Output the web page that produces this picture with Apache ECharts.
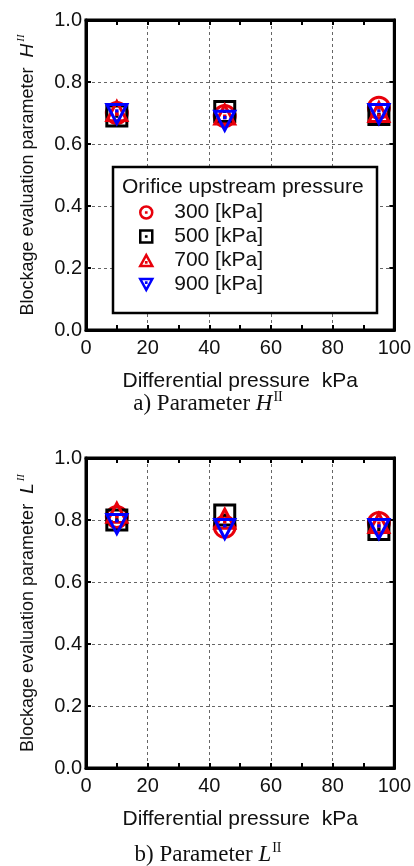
<!DOCTYPE html>
<html>
<head>
<meta charset="utf-8">
<script src="https://cdn.jsdelivr.net/npm/echarts@6/dist/echarts.min.js"></script>
<style>
  html, body { margin: 0; padding: 0; background: #fff; }
  #chart { width: 414px; height: 866px; }
</style>
</head>
<body>
<div id="chart"></div>
<script>
// Differential pressure (kPa) at which each test was run
const pressureX = [10, 45, 95];

// Orifice upstream pressure groups
const upstreamLabels = ['300 [kPa]', '500 [kPa]', '700 [kPa]', '900 [kPa]'];

// Blockage evaluation parameter H^II
const h300 = [0.700, 0.690, 0.717];
const h500 = [0.690, 0.705, 0.695];
const h700 = [0.706, 0.695, 0.703];
const h900 = [0.697, 0.675, 0.697];

// Blockage evaluation parameter L^II
const l300 = [0.810, 0.778, 0.790];
const l500 = [0.800, 0.816, 0.769];
const l700 = [0.823, 0.804, 0.790];
const l900 = [0.787, 0.771, 0.771];

// Axis ticks
const xTicks = [0, 20, 40, 60, 80, 100];
const yTicks = [0.0, 0.2, 0.4, 0.6, 0.8, 1.0];

const FONT = 'Liberation Sans, Arial, sans-serif';
const SERIF = 'Liberation Serif, Times New Roman, serif';

// Hollow markers with a small centre dot
const SYM = {
  circle: 'path://M10,0A10,10 0 1,1 10,20A10,10 0 1,1 10,0Z M9.85,9.85h0.3v0.3h-0.3Z',
  square: 'path://M0,0H20V20H0Z M9.85,9.85h0.3v0.3h-0.3Z',
  up: 'path://M10,0L20,18L0,18Z M9.85,11.85h0.3v0.3h-0.3Z',
  down: 'path://M0,0L20,0L10,18Z M9.85,5.85h0.3v0.3h-0.3Z'
};
const groupStyle = [
  { symbol: SYM.circle, color: '#e8000b', size: [21, 21] },
  { symbol: SYM.square, color: '#000000', size: [20, 20] },
  { symbol: SYM.up, color: '#e8000b', size: [20, 19] },
  { symbol: SYM.down, color: '#0000ff', size: [20, 19] }
];

const frameW = 310, frameH = 310, left = 86;
const tops = [20, 458];

function pairs(ys) { return pressureX.map((x, i) => [x, ys[i]]); }

const grids = tops.map(t => ({
  left: left, top: t, width: frameW, height: frameH,
  show: true, borderColor: '#000', borderWidth: 3, backgroundColor: 'transparent'
}));

const xAxes = [];
const yAxes = [];
const yNames = ['H', 'L'];
tops.forEach((t, g) => {
  xAxes.push({
    type: 'value', gridIndex: g, min: xTicks[0], max: xTicks[xTicks.length - 1], interval: 20,
    position: 'bottom',
    axisLine: { show: true, onZero: false, lineStyle: { color: '#000', width: 3 } },
    axisTick: { show: true, inside: true, length: 5, lineStyle: { color: '#000', width: 2 } },
    minorTick: { show: true, splitNumber: 2, length: 5, lineStyle: { color: '#000', width: 2 } },
    axisLabel: { color: '#111', fontSize: 20, fontFamily: FONT, margin: 8 },
    splitLine: { show: true, lineStyle: { color: '#666', width: 1, type: [3, 3] } },
    name: 'Differential pressure  kPa', nameLocation: 'middle', nameGap: 41,
    nameTextStyle: { color: '#111', fontSize: 21, fontFamily: FONT }
  });
  xAxes.push({
    type: 'value', gridIndex: g, min: 0, max: 100, interval: 20, position: 'top',
    axisLine: { show: true, onZero: false, lineStyle: { color: '#000', width: 3 } },
    axisTick: { show: true, inside: true, length: 5, lineStyle: { color: '#000', width: 2 } },
    minorTick: { show: true, splitNumber: 2, length: 5, lineStyle: { color: '#000', width: 2 } },
    axisLabel: { show: false }, splitLine: { show: false }
  });
  yAxes.push({
    type: 'value', gridIndex: g, min: yTicks[0], max: yTicks[yTicks.length - 1], interval: 0.2,
    position: 'left',
    axisLine: { show: true, onZero: false, lineStyle: { color: '#000', width: 3 } },
    axisTick: { show: true, inside: true, length: 5, lineStyle: { color: '#000', width: 2 } },
    axisLabel: { color: '#111', fontSize: 20, fontFamily: FONT, margin: 4, formatter: v => v.toFixed(1) },
    splitLine: { show: true, lineStyle: { color: '#666', width: 1, type: [3, 3] } },
    name: '{n|Blockage evaluation parameter  }{i|' + yNames[g] + '}{s|II}',
    nameLocation: 'middle', nameRotate: 90, nameGap: 47,
    nameTextStyle: {
      color: '#111', fontFamily: FONT,
      rich: {
        n: { fontSize: 18, fontFamily: FONT, color: '#111', lineHeight: 22 },
        i: { fontSize: 19, fontFamily: FONT, fontStyle: 'italic', color: '#111', lineHeight: 22 },
        s: { fontSize: 11, fontFamily: SERIF, fontStyle: 'italic', color: '#111', lineHeight: 22, padding: [0, 0, 13, 2] }
      }
    }
  });
  yAxes.push({
    type: 'value', gridIndex: g, min: 0, max: 1, interval: 0.2, position: 'right',
    axisLine: { show: true, onZero: false, lineStyle: { color: '#000', width: 3 } },
    axisTick: { show: true, inside: true, length: 5, lineStyle: { color: '#000', width: 2 } },
    axisLabel: { show: false }, splitLine: { show: false }
  });
});

const hSets = [h300, h500, h700, h900];
const lSets = [l300, l500, l700, l900];
const series = [];
[hSets, lSets].forEach((sets, g) => {
  sets.forEach((ys, k) => {
    const st = groupStyle[k];
    series.push({
      type: 'scatter', name: upstreamLabels[k],
      xAxisIndex: g * 2, yAxisIndex: g * 2,
      symbol: st.symbol, symbolSize: st.size,
      itemStyle: { color: 'rgba(0,0,0,0)', borderColor: st.color, borderWidth: 3, opacity: 1 },
      emphasis: { disabled: true },
      data: pairs(ys), z: 3 + k
    });
  });
});

const option = {
  backgroundColor: '#fff',
  animation: false,
  grid: grids,
  xAxis: xAxes,
  yAxis: yAxes,
  legend: {
    orient: 'vertical', left: 139, top: 202, z: 20, padding: 0,
    itemWidth: 12, itemHeight: 12, itemGap: 3,
    selectedMode: false,
    textStyle: { fontSize: 21, lineHeight: 21, fontFamily: FONT, color: '#111', padding: [0, 0, 0, 17] },
    data: upstreamLabels.map((n, k) => ({
      name: n, icon: groupStyle[k].symbol,
      itemStyle: { color: 'rgba(0,0,0,0)', borderColor: groupStyle[k].color, borderWidth: 2.5 }
    }))
  },
  graphic: [
    { type: 'rect', shape: { x: 113, y: 167, width: 264, height: 146 },
      style: { fill: '#fff', stroke: '#000', lineWidth: 2.5 }, z: 10 },
    { type: 'text', x: 122, y: 187, z: 11,
      style: { text: 'Orifice upstream pressure', fontSize: 21, fontFamily: FONT, fill: '#111', verticalAlign: 'middle' } },
    { type: 'text', x: 208, y: 404, z: 11,
      style: {
        text: '{n|a) Parameter }{i|H}{s|II}', align: 'center', verticalAlign: 'middle',
        rich: {
          n: { fontSize: 23, fontFamily: SERIF, fill: '#111', lineHeight: 28 },
          i: { fontSize: 23, fontFamily: SERIF, fontStyle: 'italic', fill: '#111', lineHeight: 28 },
          s: { fontSize: 14, fontFamily: SERIF, fill: '#111', lineHeight: 28, padding: [0, 0, 14, 1] }
        }
      } },
    { type: 'text', x: 208, y: 855, z: 11,
      style: {
        text: '{n|b) Parameter }{i|L}{s|II}', align: 'center', verticalAlign: 'middle',
        rich: {
          n: { fontSize: 23, fontFamily: SERIF, fill: '#111', lineHeight: 28 },
          i: { fontSize: 23, fontFamily: SERIF, fontStyle: 'italic', fill: '#111', lineHeight: 28 },
          s: { fontSize: 14, fontFamily: SERIF, fill: '#111', lineHeight: 28, padding: [0, 0, 14, 1] }
        }
      } }
  ],
  series: series
};

const chart = echarts.init(document.getElementById('chart'), null, { renderer: 'canvas' });
chart.setOption(option);
</script>
</body>
</html>
